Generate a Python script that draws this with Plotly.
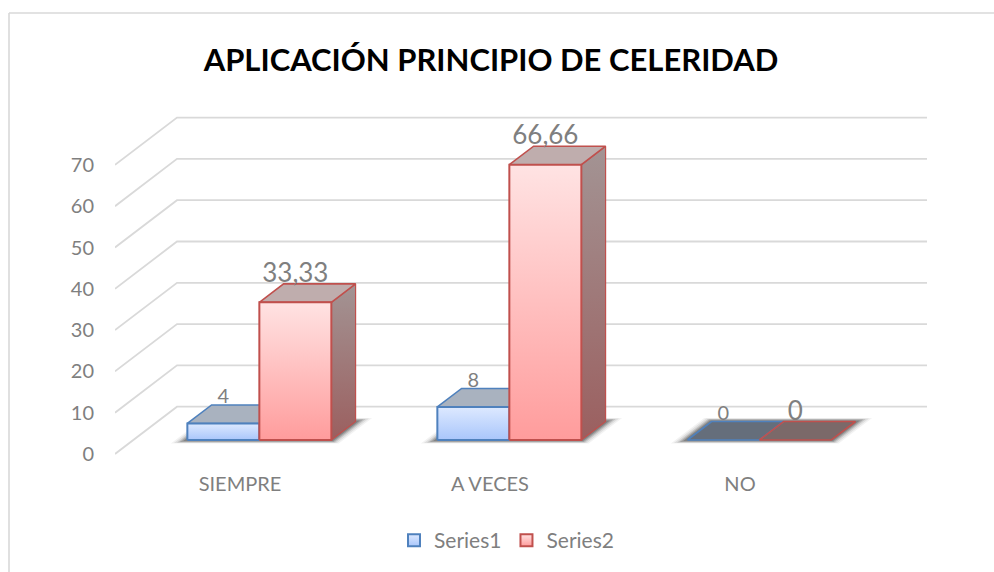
import plotly.graph_objects as go

title_text = "APLICACIÓN PRINCIPIO DE CELERIDAD"
categories = ["SIEMPRE", "A VECES", "NO"]
series1_values = [4, 8, 0]
series2_values = [33.33, 66.66, 0]
series1_labels = ["4", "8", "0"]
series2_labels = ["33,33", "66,66", "0"]
value_ticks = [0, 10, 20, 30, 40, 50, 60, 70]

W, H = 994, 572
PL, PR, PT, PB = 115, 928, 110, 460   # plot box in pixels
PX_CAT, PX_VAL = 250.0, 4.13          # pixels per category / per value unit
Y0_PX = 454
DEPTH_X, DEPTH_Y = 62 / PX_CAT, 47.3 / PX_VAL
D_FRONT, D_BACK = 0.296, 0.687
BAR = 72 / PX_CAT
NUDGE = 1 / PX_CAT
x_end = -0.5 + (PR - PL) / PX_CAT


def proj(x, v, d):
    return x + DEPTH_X * d, v + DEPTH_Y * d


def poly(points):
    pts = [proj(*p) for p in points] + [proj(*points[0])]
    return [p[0] for p in pts], [p[1] for p in pts]


fig = go.Figure()

# grid: side wall and back wall
for t in value_ticks:
    xs, ys = zip(*[proj(-0.5, t, 0), proj(-0.5, t, 1), proj(2.5, t, 1)])
    fig.add_trace(go.Scatter(x=xs, y=ys, mode="lines", showlegend=False, hoverinfo="skip",
                             line=dict(color="#d9d9d9", width=1.8)))

# soft floor shadows
shadow_layers = [(12, 3.5, 0.05), (9.5, 3, 0.08), (7, 2.5, 0.12), (5, 2, 0.16), (3, 1, 0.2), (0, 0, 0.25)]
for c in range(len(categories)):
    for ex, ey, alpha in shadow_layers:
        ax = ex / PX_CAT
        xl, xr = c + NUDGE - BAR - ax, c + NUDGE + BAR + ax
        dz = ey / 47.3
        xs, ys = poly([(xl, 0, D_FRONT - dz), (xr, 0, D_FRONT - dz),
                       (xr, 0, D_BACK + dz), (xl, 0, D_BACK + dz)])
        fig.add_trace(go.Scatter(x=xs, y=ys, mode="lines", fill="toself", showlegend=False,
                                 hoverinfo="skip", line=dict(width=0),
                                 fillcolor=f"rgba(0,0,0,{alpha})"))

styles = [
    dict(name="Series1", values=series1_values, labels=series1_labels, left=-BAR, line="#4f81bd",
         front=("#a9c6fb", "#dde9ff"), side=("#6f7f97", "#8f98a6"),
         top="rgba(104,119,142,0.57)", top_solid="#a9b2bf", size=20, lift=25),
    dict(name="Series2", values=series2_values, labels=series2_labels, left=0.0, line="#c0504d",
         front=("#ff9c9c", "#ffe3e3"), side=("#9b5f5f", "#a39494"),
         top="rgba(142,111,111,0.57)", top_solid="#bfadad", size=26, lift=27),
]

for s in styles:
    for c, v in enumerate(s["values"]):
        x0, x1 = c + NUDGE + s["left"], c + NUDGE + s["left"] + BAR
        # side
        xs, ys = poly([(x1, 0, D_FRONT), (x1, 0, D_BACK), (x1, v, D_BACK), (x1, v, D_FRONT)])
        if v > 0:
            fig.add_trace(go.Scatter(x=xs, y=ys, mode="lines", fill="toself", showlegend=False,
                                     hoverinfo="skip", line=dict(color=s["line"], width=1.2),
                                     fillgradient=dict(type="vertical",
                                                       colorscale=[[0, s["side"][0]], [1, s["side"][1]]])))
        # top
        xs, ys = poly([(x0, v, D_FRONT), (x1, v, D_FRONT), (x1, v, D_BACK), (x0, v, D_BACK)])
        fig.add_trace(go.Scatter(x=xs, y=ys, mode="lines", fill="toself", showlegend=False,
                                 hoverinfo="skip", line=dict(color=s["line"], width=1.6),
                                 fillcolor=s["top_solid"] if v > 0 else s["top"]))
        # front
        if v > 0:
            xs, ys = poly([(x0, 0, D_FRONT), (x1, 0, D_FRONT), (x1, v, D_FRONT), (x0, v, D_FRONT)])
            fig.add_trace(go.Scatter(x=xs, y=ys, mode="lines", fill="toself", showlegend=False,
                                     hoverinfo="skip", line=dict(color=s["line"], width=2),
                                     fillgradient=dict(type="vertical",
                                                       colorscale=[[0, s["front"][0]], [1, s["front"][1]]])))

# data labels
for s in styles:
    lx, ly = [], []
    for c, v in enumerate(s["values"]):
        px, py = proj(c + NUDGE + s["left"] + BAR / 2, v + s["lift"] / PX_VAL, D_FRONT)
        lx.append(px)
        ly.append(py)
    fig.add_trace(go.Scatter(x=lx, y=ly, mode="text", text=s["labels"], showlegend=False,
                             textposition="middle center", hoverinfo="skip", cliponaxis=False,
                             textfont=dict(family="Lato", size=s["size"], color="#7f7f7f")))

# legend entries
for s in styles:
    fig.add_trace(go.Scatter(x=[None], y=[None], mode="markers", name=s["name"],
                             marker=dict(symbol="square", size=13, color=s["front"][1],
                                         gradient=dict(type="vertical", color=s["front"][0]),
                                         line=dict(color=s["line"], width=2))))

fig.update_layout(
    width=W, height=H,
    margin=dict(l=PL, r=W - PR, t=PT, b=H - PB, pad=0),
    paper_bgcolor="white", plot_bgcolor="rgba(0,0,0,0)",
    title=dict(text=title_text, x=491 / W, y=1 - 60 / H, xref="container", yref="container",
               xanchor="center", yanchor="middle",
               font=dict(family="Lato", size=31, color="black", weight="bold")),
    xaxis=dict(range=[-0.5, x_end], tickmode="array", tickvals=list(range(len(categories))),
               ticktext=categories, showgrid=False, zeroline=False, showline=False, ticks="",
               ticklabelstandoff=10, tickfont=dict(family="Lato", size=20, color="#7f7f7f")),
    yaxis=dict(range=[-(PB - Y0_PX) / PX_VAL, (Y0_PX - PT) / PX_VAL], tickmode="array",
               tickvals=value_ticks, showgrid=False, zeroline=False, showline=False, ticks="",
               ticklabelstandoff=20,
               tickfont=dict(family="Lato", size=20, color="#7f7f7f")),
    showlegend=True,
    legend=dict(orientation="h", xref="container", yref="container", x=394 / W, y=1 - 520 / H,
                xanchor="left", yanchor="top", itemsizing="constant",
                font=dict(family="Lato", size=21, color="#7f7f7f"),
                bgcolor="rgba(0,0,0,0)"),
    shapes=[
        dict(type="line", xref="paper", yref="paper",
             x0=(9 - PL) / (PR - PL), x1=(W - PL) / (PR - PL),
             y0=(PB - 13) / (PB - PT), y1=(PB - 13) / (PB - PT),
             line=dict(color="#d9d9d9", width=1.6)),
        dict(type="line", xref="paper", yref="paper",
             x0=(9 - PL) / (PR - PL), x1=(9 - PL) / (PR - PL),
             y0=(PB - 13) / (PB - PT), y1=(PB - H) / (PB - PT),
             line=dict(color="#d9d9d9", width=1.6)),
    ],
)

fig.write_html("out.html", post_script="document.body.style.margin='0';",
               config=dict(displayModeBar=False))
